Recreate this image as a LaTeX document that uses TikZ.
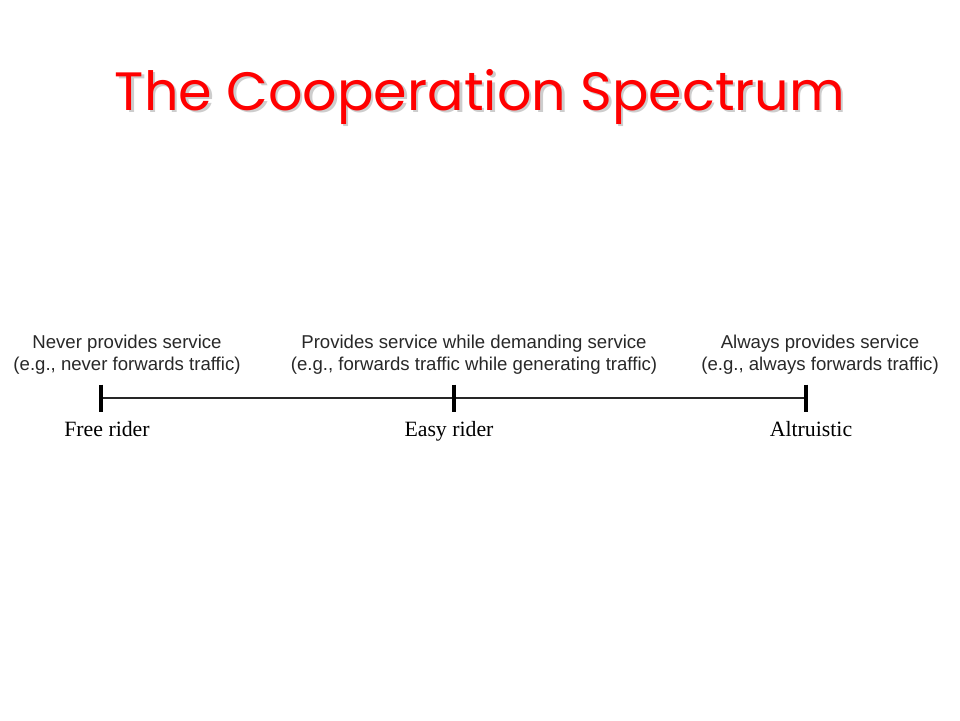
\documentclass[tikz,border=0pt]{standalone}
\usepackage{fontspec}
\setmainfont{Liberation Serif}
\setsansfont{Liberation Sans}
\newfontfamily\titlefont{Poppins}
\definecolor{titlered}{RGB}{255,0,0}
\definecolor{shadowgray}{RGB}{205,205,205}
\definecolor{labgray}{RGB}{40,40,40}
\begin{document}
\begin{tikzpicture}[x=1pt,y=1pt,
  desc/.style={font=\sffamily\fontsize{18.6}{22}\selectfont, text=labgray, align=center, inner sep=0pt, anchor=base},
  cat/.style={font=\rmfamily\fontsize{21.8}{24}\selectfont, text=black, inner sep=0pt, anchor=base},
  tick/.style={line width=4pt},
  axis/.style={line width=1.5pt, draw=black!85}]
\useasboundingbox[fill=white] (0,0) rectangle (960,-720);
\node[font=\titlefont\fontsize{54}{60}\selectfont, text=shadowgray, anchor=base] (tshadow) at (482.5,-112.5) {The Cooperation Spectrum};
\node[font=\titlefont\fontsize{54}{60}\selectfont, text=titlered, anchor=base] (title) at (480,-110) {The Cooperation Spectrum};
\coordinate (a) at (101,-398);
\coordinate (b) at (454,-398);
\coordinate (c) at (806,-398);
\draw[axis] (a) -- (b) -- (c);
\foreach \p in {a,b,c} \draw[tick] ([yshift=13.5]\p) -- ([yshift=-13.5]\p);
\node[desc] (d1) at (127,-348) {Never provides service};
\node[desc] (e1) at (127,-370) {(e.g., never forwards traffic)};
\node[desc] (d2) at (474,-348) {Provides service while demanding service};
\node[desc] (e2) at (474,-370) {(e.g., forwards traffic while generating traffic)};
\node[desc] (d3) at (820,-348) {Always provides service};
\node[desc] (e3) at (820,-370) {(e.g., always forwards traffic)};
\node[cat] (l1) at (107,-436) {Free rider};
\node[cat] (l2) at (449,-436) {Easy rider};
\node[cat] (l3) at (811,-436) {Altruistic};
\end{tikzpicture}
\end{document}
